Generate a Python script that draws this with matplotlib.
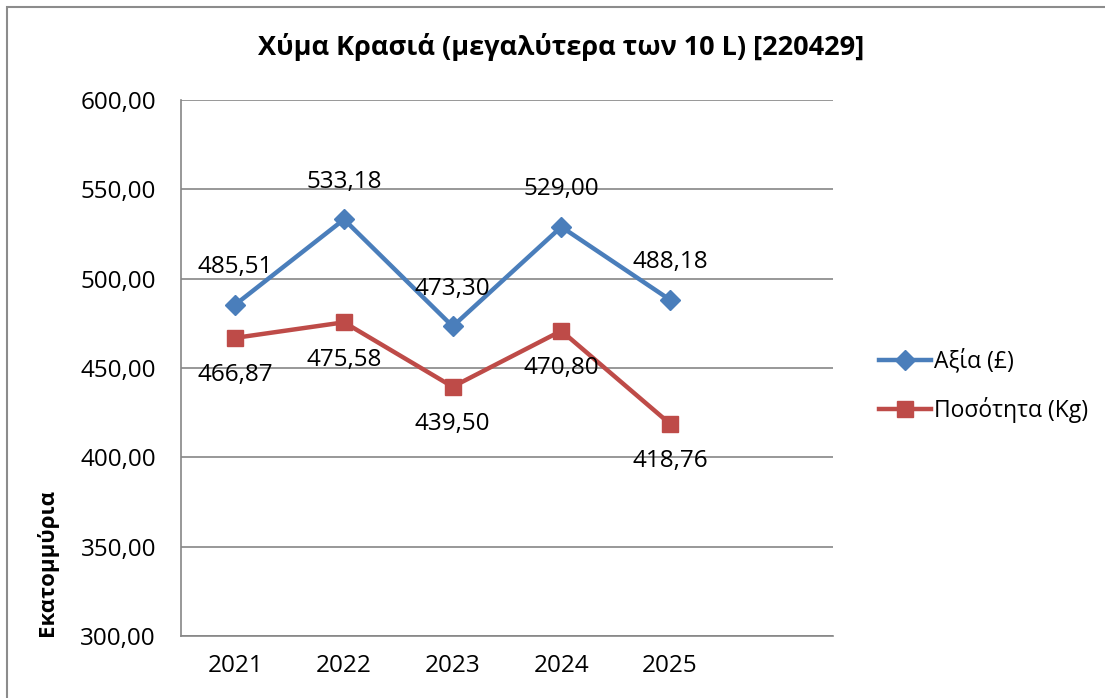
import matplotlib
matplotlib.use("Agg")
import matplotlib.pyplot as plt
from matplotlib.patches import Rectangle

plt.rcParams['font.family'] = ['Open Sans', 'DejaVu Sans']

years = ["2021", "2022", "2023", "2024", "2025"]
value_gbp = [485.51, 533.18, 473.30, 529.00, 488.18]
quantity_kg = [466.87, 475.58, 439.50, 470.80, 418.76]
series_names = ["Αξία (£)", "Ποσότητα (Kg)"]
title = "Χύμα Κρασιά (μεγαλύτερα των 10 L) [220429]"
ylabel = "Εκατομμύρια"
yticks = [300, 350, 400, 450, 500, 550, 600]

W, H = 1105, 698
fig = plt.figure(figsize=(W / 100, H / 100), dpi=100)
fig.patches.append(Rectangle((7 / W, -0.1), 1.2, 1 - 7 / H + 0.1, transform=fig.transFigure,
                             fill=False, edgecolor='#8c8c8c', linewidth=1.5))

ax = fig.add_axes([181 / W, 1 - 636 / H, (833 - 181) / W, (636 - 100) / H])
x = list(range(len(years)))
blue = '#4A7EBB'
red = '#BE4B48'
ax.plot(x, value_gbp, color=blue, linewidth=3.2, marker='D', markersize=10, label=series_names[0], zorder=3)
ax.plot(x, quantity_kg, color=red, linewidth=3.2, marker='s', markersize=12, label=series_names[1], zorder=3)

fs = 17.5
for xi, v in zip(x, value_gbp):
    ax.annotate(f"{v:.2f}".replace('.', ','), (xi, v), xytext=(0, 27), textcoords='offset points',
                ha='center', va='center', fontsize=fs)
for xi, v in zip(x, quantity_kg):
    ax.annotate(f"{v:.2f}".replace('.', ','), (xi, v), xytext=(0, -27), textcoords='offset points',
                ha='center', va='center', fontsize=fs)

ax.set_xlim(-0.5, 5.5)
ax.set_ylim(300, 600)
ax.set_xticks(x)
ax.set_xticklabels(years, fontsize=fs)
ax.set_yticks(yticks)
ax.set_yticklabels([f"{t:.2f}".replace('.', ',') for t in yticks], fontsize=fs)
ax.tick_params(axis='x', length=0, pad=13)
ax.tick_params(axis='y', length=0, pad=18)
ax.grid(axis='y', color='#868686', linewidth=1.2)
ax.set_axisbelow(True)
for s in ['top', 'right']:
    ax.spines[s].set_visible(False)
for s in ['left', 'bottom']:
    ax.spines[s].set_color('#868686')
    ax.spines[s].set_linewidth(1.2)

fig.text(47 / W, 1 - 562 / H, ylabel, rotation=90, ha='center', va='center', fontsize=16, fontweight='bold')
fig.text(561 / W, 1 - 47 / H, title, ha='center', va='center', fontsize=19.5, fontweight='bold')

ax.legend(loc='center left', bbox_to_anchor=(858 / W, 1 - 386 / H), bbox_transform=fig.transFigure,
          frameon=False, fontsize=16.5, handlelength=2.3, handletextpad=0.1, labelspacing=1.0)

fig.savefig("out.png", dpi=100)
